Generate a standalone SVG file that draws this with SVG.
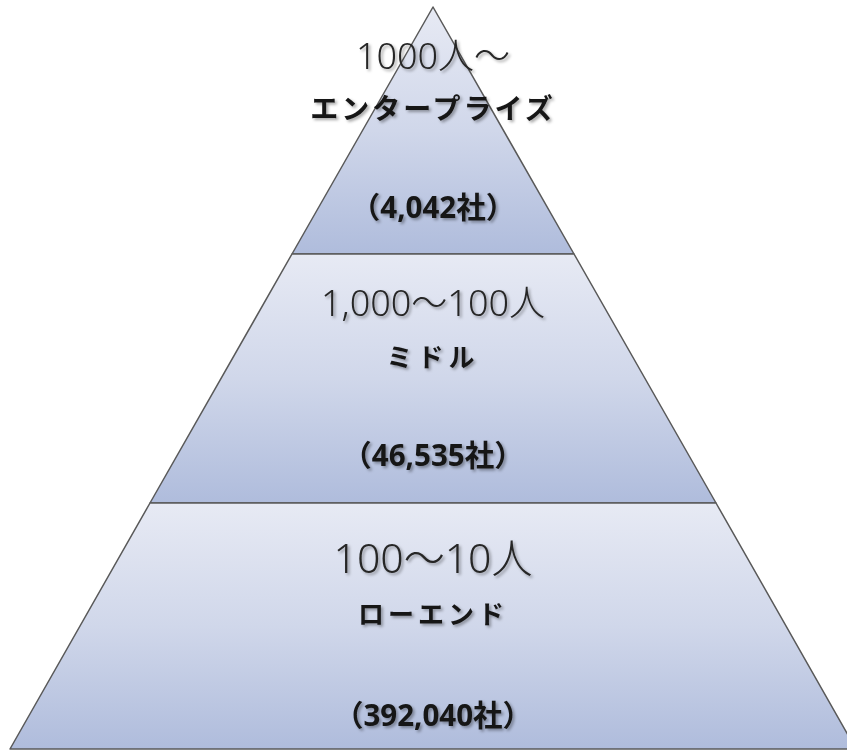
<svg xmlns="http://www.w3.org/2000/svg" width="847" height="751" viewBox="0 0 847 751">
<defs>
<linearGradient id="g" x1="0" y1="0" x2="0" y2="1">
<stop offset="0" stop-color="#e7eaf4"/>
<stop offset="0.5" stop-color="#d0d7ea"/>
<stop offset="1" stop-color="#afbcdc"/>
</linearGradient>
<filter id="sh" x="-10%" y="-30%" width="120%" height="160%">
<feDropShadow dx="2" dy="2" stdDeviation="1.8" flood-color="#000" flood-opacity="0.35"/>
</filter>
</defs>
<style>
.band{fill:url(#g);stroke:#595959;stroke-width:1.5;stroke-linejoin:round}
.lt{font-family:"Noto Sans","Noto Sans CJK JP",sans-serif;font-weight:300;fill:#262626;text-anchor:middle;filter:url(#sh)}
.bd{font-family:"Noto Sans","Noto Sans CJK JP",sans-serif;font-weight:700;fill:#141414;text-anchor:middle;filter:url(#sh)}
.num{font-size:29.5px}
</style>
<rect width="847" height="751" fill="#ffffff"/>
<g id="enterprise">
<polygon class="band" points="433,7 574,254 292,254"/>
<text class="lt" x="433" y="69" font-size="36">1000人～</text>
<text class="bd" x="433" y="119" font-size="28" letter-spacing="3">エンタープライズ</text>
<text class="bd num" x="433" y="218">（4,042社）</text>
</g>
<g id="middle">
<polygon class="band" points="292,254 574,254 716,503 150,503"/>
<text class="lt" x="433" y="316" font-size="36">1,000～100人</text>
<text class="bd" x="433" y="367" font-size="26" letter-spacing="5">ミドル</text>
<text class="bd num" x="433" y="466">（46,535社）</text>
</g>
<g id="lowend">
<polygon class="band" points="150,503 716,503 856,749 10,749"/>
<text class="lt" x="433" y="573" font-size="41">100～10人</text>
<text class="bd" x="433" y="624" font-size="26" letter-spacing="4">ローエンド</text>
<text class="bd num" x="433" y="726">（392,040社）</text>
</g>
<g id="connectors"/>
</svg>
